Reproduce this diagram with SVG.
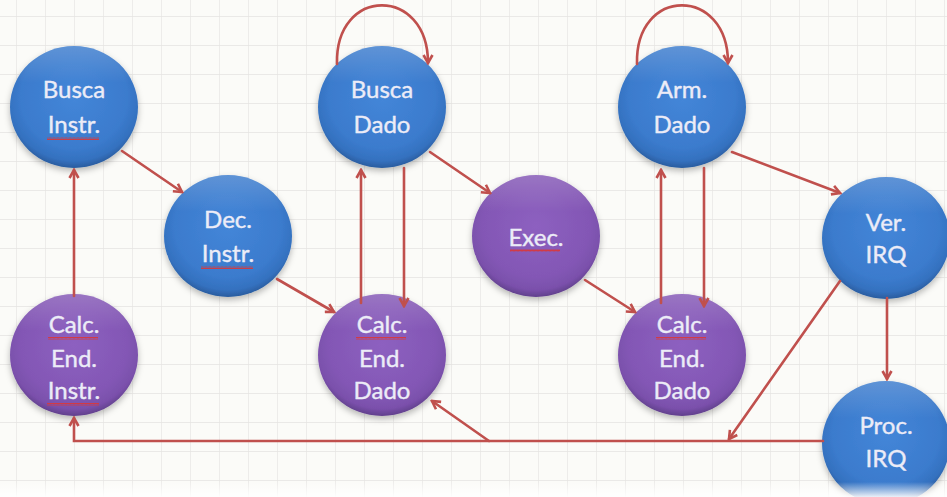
<svg xmlns="http://www.w3.org/2000/svg" width="947" height="497" viewBox="0 0 947 497">
  <defs>
    <style>
      .lbl { font-family: Lato, "Open Sans", "Liberation Sans", sans-serif; font-size: 24px; fill: #ececf7; stroke: #ececf7; stroke-width: 0.4; text-anchor: middle; }
      .edge { fill: none; stroke: #c0504d; stroke-width: 2.6; stroke-linecap: round; }
      .arrow { marker-end: url(#head); }
      .blue { fill: url(#gBlue); filter: url(#shadow); }
      .purple { fill: url(#gPurple); filter: url(#shadow); }
      .gloss { fill: url(#gGloss); }
      .squiggle { fill: url(#wave); }
    </style>
    <pattern id="grid" width="29" height="29" patternUnits="userSpaceOnUse" x="16" y="16">
      <path d="M0 0 H29 M0 0 V29" fill="none" stroke="#e5e4e2" stroke-width="1.3"/>
    </pattern>
    <pattern id="wave" width="4" height="3" patternUnits="userSpaceOnUse">
      <path d="M0 2.5 L1 0.5 L2 2.5 L3 0.5 L4 2.5" fill="none" stroke="#d9383a" stroke-width="0.9"/>
    </pattern>
    <radialGradient id="gBlue" cx="50%" cy="42%" r="58%">
      <stop offset="0" stop-color="#4486d8"/>
      <stop offset="0.72" stop-color="#3b7bcd"/>
      <stop offset="0.9" stop-color="#3471bf"/>
      <stop offset="1" stop-color="#2a5c9e"/>
    </radialGradient>
    <radialGradient id="gPurple" cx="50%" cy="42%" r="58%">
      <stop offset="0" stop-color="#8d60c0"/>
      <stop offset="0.72" stop-color="#8357b5"/>
      <stop offset="0.9" stop-color="#7a50ab"/>
      <stop offset="1" stop-color="#61408c"/>
    </radialGradient>
    <linearGradient id="gGloss" x1="0" y1="0" x2="0" y2="1">
      <stop offset="0" stop-color="#ffffff" stop-opacity="0.18"/>
      <stop offset="0.3" stop-color="#ffffff" stop-opacity="0"/>
    </linearGradient>
    <linearGradient id="fadeBottom" x1="0" y1="0" x2="0" y2="1">
      <stop offset="0" stop-color="#ffffff" stop-opacity="0"/>
      <stop offset="1" stop-color="#ffffff" stop-opacity="0.9"/>
    </linearGradient>
    <filter id="shadow" x="-20%" y="-20%" width="140%" height="150%">
      <feDropShadow dx="0" dy="3" stdDeviation="3" flood-color="#000" flood-opacity="0.28"/>
    </filter>
    <marker id="head" viewBox="0 0 12 12" refX="10" refY="6" markerWidth="12" markerHeight="12" markerUnits="userSpaceOnUse" orient="auto">
      <path d="M2 1.5 L10 6 L2 10.5" fill="none" stroke="#c0504d" stroke-width="2.6" stroke-linejoin="miter"/>
    </marker>
  </defs>

  <!-- sheet and grid -->
  <rect width="947" height="497" fill="#fbfbf8"/>
  <rect width="947" height="497" fill="url(#grid)"/>

  <!-- nodes -->
  <g id="busca-instr">
    <ellipse class="blue" cx="74" cy="107" rx="64" ry="61"/>
    <ellipse class="gloss" cx="74" cy="107" rx="64" ry="61"/>
    <text class="lbl" x="74" y="98">Busca</text>
    <text class="lbl" x="74" y="133">Instr.</text>
    <rect class="squiggle" x="47" y="137" width="52" height="3"/>
  </g>
  <g id="dec-instr">
    <ellipse class="blue" cx="228" cy="236" rx="64" ry="61"/>
    <ellipse class="gloss" cx="228" cy="236" rx="64" ry="61"/>
    <text class="lbl" x="228" y="228">Dec.</text>
    <text class="lbl" x="228" y="262">Instr.</text>
    <rect class="squiggle" x="201" y="266" width="52" height="3"/>
  </g>
  <g id="busca-dado">
    <ellipse class="blue" cx="382" cy="107" rx="64" ry="61"/>
    <ellipse class="gloss" cx="382" cy="107" rx="64" ry="61"/>
    <text class="lbl" x="382" y="98">Busca</text>
    <text class="lbl" x="382" y="133">Dado</text>
  </g>
  <g id="exec">
    <ellipse class="purple" cx="536" cy="236" rx="64" ry="61"/>
    <ellipse class="gloss" cx="536" cy="236" rx="64" ry="61"/>
    <text class="lbl" x="536" y="246">Exec.</text>
    <rect class="squiggle" x="510" y="249" width="50" height="3"/>
  </g>
  <g id="arm-dado">
    <ellipse class="blue" cx="682" cy="107" rx="64" ry="61"/>
    <ellipse class="gloss" cx="682" cy="107" rx="64" ry="61"/>
    <text class="lbl" x="682" y="98">Arm.</text>
    <text class="lbl" x="682" y="133">Dado</text>
  </g>
  <g id="ver-irq">
    <ellipse class="blue" cx="886" cy="238" rx="64" ry="61"/>
    <ellipse class="gloss" cx="886" cy="238" rx="64" ry="61"/>
    <text class="lbl" x="886" y="231">Ver.</text>
    <text class="lbl" x="886" y="263">IRQ</text>
  </g>
  <g id="calc-end-instr">
    <ellipse class="purple" cx="74" cy="355" rx="64" ry="61"/>
    <ellipse class="gloss" cx="74" cy="355" rx="64" ry="61"/>
    <text class="lbl" x="74" y="333">Calc.</text>
    <text class="lbl" x="74" y="367">End.</text>
    <text class="lbl" x="74" y="399">Instr.</text>
    <rect class="squiggle" x="48" y="337" width="50" height="3"/>
    <rect class="squiggle" x="47" y="403" width="52" height="3"/>
  </g>
  <g id="calc-end-dado-1">
    <ellipse class="purple" cx="382" cy="355" rx="64" ry="61"/>
    <ellipse class="gloss" cx="382" cy="355" rx="64" ry="61"/>
    <text class="lbl" x="382" y="333">Calc.</text>
    <text class="lbl" x="382" y="367">End.</text>
    <text class="lbl" x="382" y="399">Dado</text>
    <rect class="squiggle" x="356" y="337" width="50" height="3"/>
  </g>
  <g id="calc-end-dado-2">
    <ellipse class="purple" cx="682" cy="355" rx="64" ry="61"/>
    <ellipse class="gloss" cx="682" cy="355" rx="64" ry="61"/>
    <text class="lbl" x="682" y="333">Calc.</text>
    <text class="lbl" x="682" y="367">End.</text>
    <text class="lbl" x="682" y="399">Dado</text>
    <rect class="squiggle" x="656" y="337" width="50" height="3"/>
  </g>
  <g id="proc-irq">
    <ellipse class="blue" cx="886" cy="443" rx="64" ry="62"/>
    <ellipse class="gloss" cx="886" cy="443" rx="64" ry="62"/>
    <text class="lbl" x="886" y="434">Proc.</text>
    <text class="lbl" x="886" y="467">IRQ</text>
  </g>

  <!-- connectors, drawn over the node rims -->
  <g id="connectors">
    <line class="edge arrow" x1="122" y1="151" x2="182" y2="192"/>
    <line class="edge arrow" x1="277" y1="279" x2="334" y2="312"/>
    <line class="edge arrow" x1="74" y1="296" x2="74" y2="170"/>
    <line class="edge arrow" x1="361" y1="303" x2="361" y2="170"/>
    <line class="edge arrow" x1="404" y1="168" x2="404" y2="306"/>
    <path class="edge arrow" d="M337 64 C335 -14 428 -14 428 63"/>
    <line class="edge arrow" x1="430" y1="152" x2="490" y2="193"/>
    <line class="edge arrow" x1="585" y1="280" x2="635" y2="312"/>
    <line class="edge arrow" x1="661" y1="303" x2="661" y2="170"/>
    <line class="edge arrow" x1="704" y1="168" x2="704" y2="306"/>
    <path class="edge arrow" d="M637 64 C635 -14 728 -14 728 63"/>
    <line class="edge arrow" x1="732" y1="152" x2="840" y2="193"/>
    <line class="edge arrow" x1="887" y1="298" x2="887" y2="379"/>
    <line class="edge arrow" x1="840" y1="281" x2="729" y2="439"/>
    <polyline class="edge arrow" points="823,441 74,441 74,418"/>
    <line class="edge arrow" x1="489" y1="441" x2="432" y2="401"/>
  </g>

  <!-- soft edge at the foot of the sheet -->
  <rect x="0" y="482" width="947" height="15" fill="url(#fadeBottom)"/>
</svg>
